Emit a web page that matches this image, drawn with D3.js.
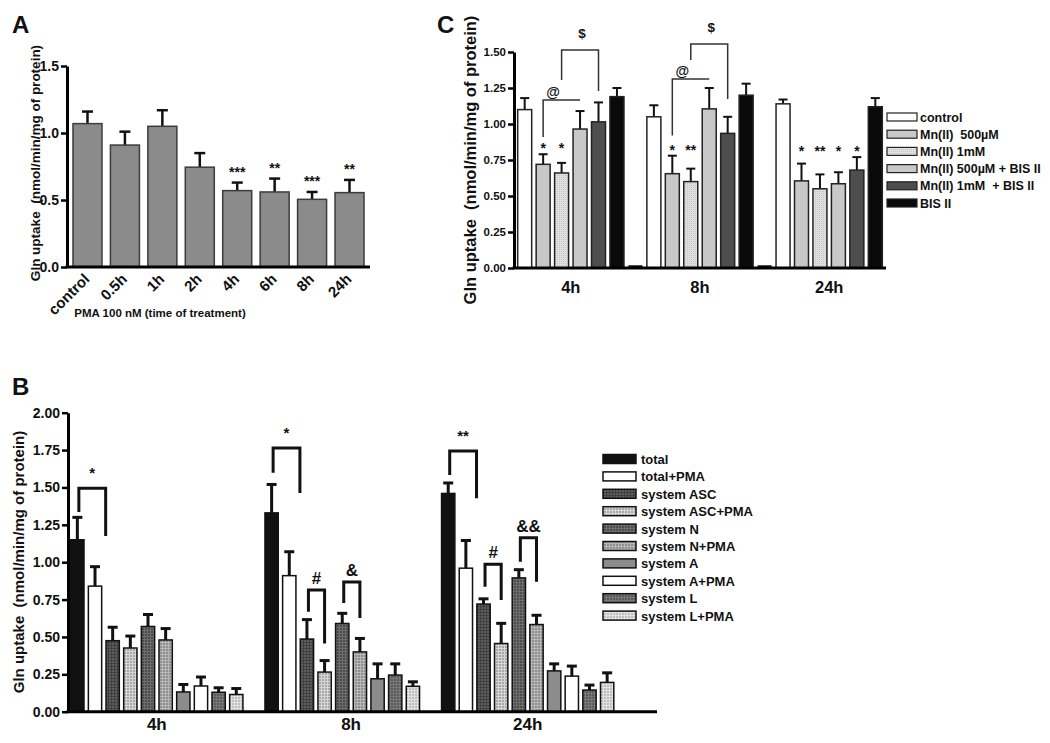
<!DOCTYPE html>
<html><head><meta charset="utf-8">
<script src="https://cdn.jsdelivr.net/npm/d3@7"></script>
<style>
body{margin:0;background:#fff;}
svg{display:block;}
</style></head><body>
<svg id="chart" width="1050" height="743"></svg>
<script>
// ================= DATA =================
// ---- Panel A ----
const aCategories = ["control","0.5h","1h","2h","4h","6h","8h","24h"];
const aMeans = [1.07, 0.91, 1.05, 0.745, 0.57, 0.56, 0.505, 0.555];
const aSem   = [0.09, 0.10, 0.12, 0.105, 0.06, 0.10, 0.055, 0.095];
const aStars = ["","","","","***","**","***","**"];
const aTicks = [0, 0.5, 1.0, 1.5];
const aYLabel = "Gln uptake  (nmol/min/mg of protein)";
const aXLabel = "PMA 100 nM (time of treatment)";

// ---- Panel C ----
const cGroups = ["4h","8h","24h"];
const cSeries = ["control","Mn(II)  500\u00b5M","Mn(II) 1mM","Mn(II) 500\u00b5M + BIS II","Mn(II) 1mM  + BIS II","BIS II"];
const cControl   = [1.10, 1.05, 1.14];
const cMn500     = [0.72, 0.655, 0.605];
const cMn1       = [0.66, 0.60, 0.55];
const cMn500Bis  = [0.965, 1.105, 0.585];
const cMn1Bis    = [1.015, 0.935, 0.68];
const cBis       = [1.19, 1.20, 1.12];
const cControlSem  = [0.08, 0.08, 0.03];
const cMn500Sem    = [0.07, 0.125, 0.12];
const cMn1Sem      = [0.07, 0.09, 0.10];
const cMn500BisSem = [0.125, 0.145, 0.08];
const cMn1BisSem   = [0.135, 0.115, 0.09];
const cBisSem      = [0.06, 0.08, 0.06];
const cStars = [["","*","*","","",""],["","*","**","","",""],["","*","**","*","*",""]];
const cTicks = [0, 0.25, 0.5, 0.75, 1.0, 1.25, 1.5];
// brackets: group, from series, to series, label, top level, left drop end, right drop end (null = none)
const cBrackets = [
  {g:0, from:1, to:3, label:"@", top:1.167, left:0.91, right:null},
  {g:0, from:2, to:4, label:"$", top:1.514, left:1.306, right:1.23},
  {g:1, from:1, to:3, label:"@", top:1.3125, left:0.92, right:null},
  {g:1, from:2, to:4, label:"$", top:1.556, left:1.444, right:1.174}
];

// ---- Panel B ----
const bGroups = ["4h","8h","24h"];
const bSeries = ["total","total+PMA","system ASC","system ASC+PMA","system N","system N+PMA","system A","system A+PMA","system L","system L+PMA"];
const bTotal      = [1.15, 1.33, 1.46];
const bTotalPMA   = [0.84, 0.91, 0.96];
const bASC        = [0.475, 0.486, 0.72];
const bASCPMA     = [0.426, 0.265, 0.456];
const bN          = [0.57, 0.59, 0.895];
const bNPMA       = [0.48, 0.40, 0.583];
const bA          = [0.132, 0.22, 0.273];
const bAPMA       = [0.172, null, 0.238];
const bL          = [0.13, 0.245, 0.145];
const bLPMA       = [0.115, 0.17, 0.196];
const bTotalSem    = [0.15, 0.19, 0.07];
const bTotalPMASem = [0.13, 0.16, 0.185];
const bASCSem      = [0.09, 0.13, 0.035];
const bASCPMASem   = [0.08, 0.077, 0.135];
const bNSem        = [0.08, 0.068, 0.055];
const bNPMASem     = [0.076, 0.09, 0.062];
const bASem        = [0.05, 0.10, 0.047];
const bAPMASem     = [0.06, null, 0.067];
const bLSem        = [0.03, 0.075, 0.033];
const bLPMASem     = [0.04, 0.03, 0.064];
const bTicks = [0, 0.25, 0.5, 0.75, 1.0, 1.25, 1.5, 1.75, 2.0];
const bBrackets = [
  {g:0, from:0, to:1, label:"*",  top:1.495, left:1.336, right:1.175},
  {g:1, from:0, to:1, label:"*",  top:1.764, left:1.599, right:1.463},
  {g:1, from:2, to:3, label:"#",  top:0.814, left:0.669, right:0.457},
  {g:1, from:4, to:5, label:"&",  top:0.868, left:0.727, right:0.627},
  {g:2, from:0, to:1, label:"**", top:1.744, left:1.583, right:1.427},
  {g:2, from:2, to:3, label:"#",  top:0.986, left:0.836, right:0.747},
  {g:2, from:4, to:5, label:"&&", top:1.164, left:1.003, right:0.870}
];
const yLabel = "Gln uptake  (nmol/min/mg of protein)";

// ================= DRAWING =================
const FONT = '"Liberation Sans", Arial, Helvetica, sans-serif';
const svg = d3.select("#chart");
const defs = svg.append("defs");

function gridPattern(id, base, line, size) {
  const p = defs.append("pattern").attr("id", id).attr("patternUnits", "userSpaceOnUse")
    .attr("width", size).attr("height", size);
  p.append("rect").attr("width", size).attr("height", size).attr("fill", base);
  p.append("path").attr("d", `M0,0.5H${size}M0.5,0V${size}`).attr("stroke", line).attr("stroke-width", 1);
}
gridPattern("pASC", "#5e5e5e", "#404040", 3);
gridPattern("pASCPMA", "#a8a8a8", "#d6d6d6", 3);
gridPattern("pN", "#4c4c4c", "#6e6e6e", 3);
gridPattern("pNPMA", "#8e8e8e", "#b8b8b8", 3);
gridPattern("pL", "#5a5a5a", "#787878", 3);
gridPattern("pLPMA", "#bdbdbd", "#e2e2e2", 3);
gridPattern("pMn1", "#c4c4c4", "#e0e0e0", 2);

function txt(x, y, s, size, opts = {}) {
  const t = svg.append("text").attr("x", x).attr("y", y).text(s)
    .attr("font-family", FONT).attr("font-weight", "bold").attr("font-size", size)
    .attr("fill", opts.fill || "#111").attr("text-anchor", opts.anchor || "start")
    .style("white-space", "pre");
  if (opts.transform) t.attr("transform", opts.transform);
  return t;
}

function yAxis(x, y, ticks, fmt, fs) {
  const g = svg.append("g").attr("transform", `translate(${x},0)`)
    .call(d3.axisLeft(y).tickValues(ticks).tickFormat(fmt).tickSize(6).tickSizeOuter(0));
  g.select(".domain").attr("stroke", "#000").attr("stroke-width", 3);
  g.selectAll(".tick line").attr("stroke", "#000").attr("stroke-width", 2.5);
  g.selectAll(".tick text").attr("font-size", fs).attr("font-weight", "bold")
    .attr("font-family", FONT).attr("fill", "#111").attr("x", -8);
  return g;
}

function hline(x1, x2, y, w) {
  svg.append("line").attr("x1", x1).attr("x2", x2).attr("y1", y).attr("y2", y)
    .attr("stroke", "#000").attr("stroke-width", w);
}

function barWithError(x, w, y, mean, sem, fill, stroke, sw, ew, cap) {
  const cx = x + w / 2;
  svg.append("line").attr("x1", cx).attr("x2", cx).attr("y1", y(mean)).attr("y2", y(mean + sem))
    .attr("stroke", "#111").attr("stroke-width", ew);
  svg.append("line").attr("x1", cx - cap / 2).attr("x2", cx + cap / 2)
    .attr("y1", y(mean + sem)).attr("y2", y(mean + sem))
    .attr("stroke", "#111").attr("stroke-width", ew);
  svg.append("rect").attr("x", x).attr("y", y(mean)).attr("width", w)
    .attr("height", y(0) - y(mean)).attr("fill", fill).attr("stroke", stroke).attr("stroke-width", sw);
}

// ---------- Panel A ----------
{
  const x = d3.scaleBand().domain(aCategories).range([67, 370]).paddingInner(0.225).paddingOuter(0.16);
  const y = d3.scaleLinear().domain([0, 1.5]).range([267, 66]);
  aCategories.forEach((c, i) => {
    barWithError(x(c), x.bandwidth(), y, aMeans[i], aSem[i], "#8b8b8b", "#3c3c3c", 1.5, 2.5, 11);
    if (aStars[i]) txt(x(c) + x.bandwidth() / 2, y(aMeans[i] + aSem[i]) - 6, aStars[i], 14, {anchor: "middle"});
    const lx = x(c) + x.bandwidth() / 2 + 3;
    txt(lx, 280, c, 15, {anchor: "end", transform: `rotate(-45 ${lx} 280)`});
  });
  yAxis(67, y, aTicks, d3.format(".1f"), 14);
  hline(65.5, 370, y(0), 3);
  txt(40, 163, aYLabel, 13.5, {anchor: "middle", transform: "rotate(-90 40 163)"});
  txt(160, 317, aXLabel, 11.5, {anchor: "middle"});
  txt(12, 33, "A", 24);
}

// ---------- Panel C ----------
{
  const cValues = [cControl, cMn500, cMn1, cMn500Bis, cMn1Bis, cBis];
  const cSems = [cControlSem, cMn500Sem, cMn1Sem, cMn500BisSem, cMn1BisSem, cBisSem];
  const cFills = ["#ffffff", "#c8c8c8", "url(#pMn1)", "#c8c8c8", "#4e4e4e", "#0a0a0a"];
  const per = cSeries.length + 1;
  const x = d3.scaleBand().domain(d3.range(cGroups.length * per - 1)).range([514, 886])
    .paddingInner(0.2416).paddingOuter(0.2);
  const y = d3.scaleLinear().domain([0, 1.5]).range([268, 52]);
  const bw = x.bandwidth();
  const cx = (g, s) => x(g * per + s) + bw / 2;

  cGroups.forEach((gName, g) => {
    cSeries.forEach((s, si) => {
      barWithError(x(g * per + si), bw, y, cValues[si][g], cSems[si][g], cFills[si], "#222", 1.5, 2, 9);
    });
    const starIdx = cStars[g].map((s, i) => s ? i : -1).filter(i => i >= 0);
    const minTop = d3.min(starIdx, i => y(cValues[i][g] + cSems[i][g]));
    starIdx.forEach(i => txt(cx(g, i), minTop - 1, cStars[g][i], 14, {anchor: "middle"}));
    if (g < cGroups.length - 1) {
      svg.append("line").attr("x1", x(g * per + cSeries.length)).attr("x2", x(g * per + cSeries.length) + bw)
        .attr("y1", y(0) - 1.5).attr("y2", y(0) - 1.5).attr("stroke", "#111").attr("stroke-width", 2.5);
    }
    const [gx0, gx1] = [x(g * per), x(g * per + cSeries.length - 1) + bw];
    txt((gx0 + gx1) / 2, 293, gName, 16.5, {anchor: "middle"});
  });
  cBrackets.forEach(b => {
    const x1 = cx(b.g, b.from), x2 = cx(b.g, b.to);
    const yt = y(b.top);
    let d = `M${x1},${y(b.left)}V${yt}H${x2}`;
    if (b.right !== null) d += `V${y(b.right)}`;
    svg.append("path").attr("d", d).attr("fill", "none").attr("stroke", "#333").attr("stroke-width", 1.5);
    if (b.label === "@") txt(x1 + 10, yt - 3, b.label, 14, {anchor: "middle"});
    else txt((x1 + x2) / 2 + 2, yt - 12, b.label, 13.5, {anchor: "middle"});
  });
  yAxis(514, y, cTicks, d3.format(".2f"), 11.5);
  hline(512.5, 886, y(0), 3);
  txt(476, 160, yLabel, 16.5, {anchor: "middle", transform: "rotate(-90 476 160)"});
  txt(437, 33, "C", 24);

  cSeries.forEach((s, i) => {
    const ly = 117 + i * 17.2;
    svg.append("rect").attr("x", 887).attr("y", ly - 4).attr("width", 30).attr("height", 8)
      .attr("fill", cFills[i]).attr("stroke", "#222").attr("stroke-width", 1.2);
    txt(920, ly + 4.5, s, 12.5);
  });
}

// ---------- Panel B ----------
{
  const bValues = [bTotal, bTotalPMA, bASC, bASCPMA, bN, bNPMA, bA, bAPMA, bL, bLPMA];
  const bSems = [bTotalSem, bTotalPMASem, bASCSem, bASCPMASem, bNSem, bNPMASem, bASem, bAPMASem, bLSem, bLPMASem];
  const bFills = ["#111111", "#ffffff", "url(#pASC)", "url(#pASCPMA)", "url(#pN)", "url(#pNPMA)",
                  "#8c8c8c", "#ffffff", "url(#pL)", "url(#pLPMA)"];
  const slotOf = bGroups.map(() => []);
  const groupStart = [];
  let slot = 0;
  bGroups.forEach((g, gi) => {
    groupStart.push(slot);
    bSeries.forEach((s, si) => { if (bValues[si][gi] !== null) slotOf[gi][si] = slot++; });
    slot++;
  });
  const x = d3.scaleBand().domain(d3.range(slot - 1)).range([68, 616.5]).paddingInner(0.247).paddingOuter(0.153);
  const y = d3.scaleLinear().domain([0, 2]).range([711.7, 412.7]);
  const bw = x.bandwidth();
  const cx = (g, s) => x(slotOf[g][s]) + bw / 2;

  bGroups.forEach((gName, gi) => {
    bSeries.forEach((s, si) => {
      if (bValues[si][gi] === null) return;
      barWithError(x(slotOf[gi][si]), bw, y, bValues[si][gi], bSems[si][gi], bFills[si], "#111", 1.5, 3, 10);
    });
    const first = groupStart[gi];
    txt((x(first) + x(first + 9) + bw) / 2, 730, gName, 17, {anchor: "middle"});
  });
  bBrackets.forEach(b => {
    const x1 = cx(b.g, b.from) + 1.5;
    const x2 = b.from === 0 ? x(slotOf[b.g][b.to]) + bw + 4 : cx(b.g, b.to);
    const yt = y(b.top);
    svg.append("path").attr("d", `M${x1},${y(b.left)}V${yt}H${x2}V${y(b.right)}`)
      .attr("fill", "none").attr("stroke", "#111").attr("stroke-width", 3);
    const isStar = b.label.includes("*");
    txt((x1 + x2) / 2, isStar ? yt - 10 : yt - 6, b.label, isStar ? 15 : 17, {anchor: "middle"});
  });
  yAxis(68, y, bTicks, d3.format(".2f"), 14);
  hline(66.5, 657, y(0), 3);
  txt(24, 562, yLabel, 15, {anchor: "middle", transform: "rotate(-90 24 562)"});
  txt(12, 395, "B", 24);

  bSeries.forEach((s, i) => {
    const ly = 459 + i * 17.4;
    svg.append("rect").attr("x", 603).attr("y", ly - 4.5).attr("width", 33).attr("height", 9)
      .attr("fill", bFills[i]).attr("stroke", "#111").attr("stroke-width", 1.5);
    txt(641, ly + 5, s, 13);
  });
}
</script>
</body></html>
